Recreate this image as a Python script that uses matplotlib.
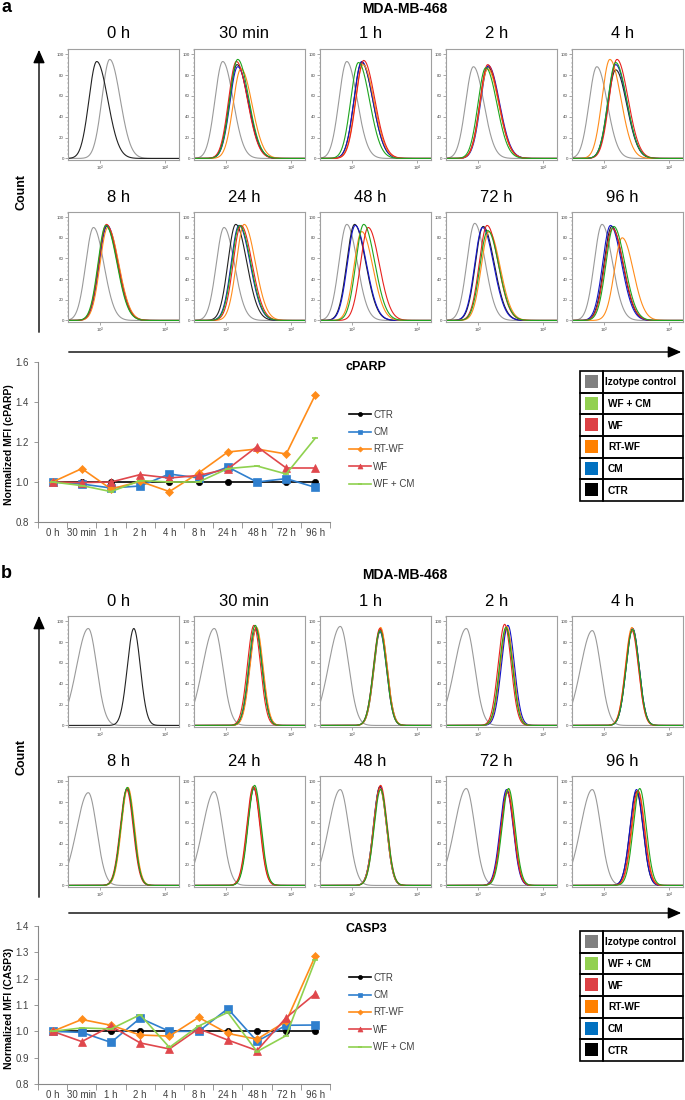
import matplotlib
matplotlib.use('Agg')
import matplotlib.pyplot as plt
import numpy as np
from matplotlib.patches import Rectangle
from matplotlib.ticker import MultipleLocator, NullFormatter

plt.rcParams['font.family'] = ['Liberation Sans', 'DejaVu Sans']

W, H = 685, 1100

# ---- data ----
time_labels = ['0 h', '30 min', '1 h', '2 h', '4 h', '8 h', '24 h', '48 h', '72 h', '96 h']
groups = ['CTR', 'CM', 'RT-WF', 'WF', 'WF + CM']

# normalized MFI, cPARP
cparp_ctr = [1.0, 1.0, 1.0, 1.0, 1.0, 1.0, 1.0, 1.0, 1.0, 1.0]
cparp_cm = [1.0, 0.99, 0.97, 0.98, 1.04, 1.02, 1.075, 1.0, 1.017, 0.973]
cparp_rtwf = [1.0, 1.067, 0.965, 1.003, 0.952, 1.045, 1.15, 1.165, 1.14, 1.437]
cparp_wf = [1.0, 0.997, 1.0, 1.037, 1.02, 1.033, 1.065, 1.177, 1.07, 1.07]
cparp_wfcm = [1.0, 0.982, 0.952, 1.007, 1.0, 1.0, 1.067, 1.08, 1.04, 1.22]

# normalized MFI, CASP3
casp3_ctr = [1.0, 1.0, 1.0, 1.0, 1.0, 1.0, 1.0, 1.0, 1.0, 1.0]
casp3_cm = [1.0, 0.996, 0.958, 1.05, 1.0, 1.0, 1.086, 0.962, 1.023, 1.024]
casp3_rtwf = [1.0, 1.045, 1.023, 0.986, 0.982, 1.053, 0.992, 0.97, 1.038, 1.287]
casp3_wf = [1.0, 0.961, 1.02, 0.956, 0.933, 1.01, 0.967, 0.927, 1.052, 1.143]
casp3_wfcm = [1.0, 1.013, 1.009, 1.063, 0.939, 1.02, 1.072, 0.923, 0.984, 1.271]

# histogram peak positions (log10 fluorescence), order: isotype, CTR, CM, RT-WF, WF, WF + CM
cparp_peaks = [
    [3.15, 2.95, None, None, None, None],
    [2.95, 3.17, 3.18, 3.23, 3.16, 3.18],
    [2.92, 3.15, 3.15, 3.17, 3.18, 3.10],
    [2.93, 3.15, 3.16, 3.15, 3.15, 3.12],
    [2.89, 3.18, 3.18, 3.09, 3.20, 3.18],
    [2.90, 3.10, 3.11, 3.12, 3.10, 3.09],
    [2.97, 3.15, 3.20, 3.28, 3.23, 3.21],
    [2.92, 3.04, 3.05, 3.15, 3.25, 3.18],
    [2.95, 3.08, 3.07, 3.17, 3.14, 3.15],
    [2.97, 3.12, 3.10, 3.28, 3.13, 3.15],
]
cparp_heights = [
    [95, 93, 0, 0, 0, 0],
    [93, 90, 88, 86, 93, 95],
    [93, 92, 93, 90, 94, 92],
    [88, 88, 89, 86, 90, 87],
    [88, 85, 90, 95, 95, 92],
    [90, 91, 92, 90, 93, 92],
    [90, 93, 92, 93, 92, 92],
    [93, 93, 92, 86, 90, 93],
    [94, 91, 90, 86, 92, 87],
    [93, 91, 92, 80, 89, 91],
]
casp3_peaks = [
    [2.82, 3.52, None, None, None, None],
    [2.82, 3.46, 3.46, 3.47, 3.43, 3.45],
    [2.82, 3.44, 3.43, 3.44, 3.43, 3.43],
    [2.82, 3.44, 3.46, 3.44, 3.41, 3.43],
    [2.82, 3.44, 3.44, 3.43, 3.43, 3.44],
    [2.82, 3.42, 3.42, 3.43, 3.41, 3.42],
    [2.82, 3.43, 3.43, 3.43, 3.42, 3.44],
    [2.82, 3.43, 3.43, 3.43, 3.44, 3.44],
    [2.82, 3.45, 3.44, 3.46, 3.45, 3.47],
    [2.82, 3.50, 3.50, 3.53, 3.52, 3.55],
]
casp3_heights = [
    [93, 93, 0, 0, 0, 0],
    [93, 93, 92, 94, 96, 96],
    [95, 92, 90, 94, 93, 91],
    [93, 93, 96, 95, 97, 94],
    [91, 93, 93, 94, 91, 92],
    [89, 93, 93, 94, 92, 94],
    [90, 94, 93, 94, 95, 96],
    [92, 95, 94, 93, 96, 92],
    [93, 91, 92, 92, 89, 93],
    [92, 90, 92, 90, 91, 93],
]

hist_colors = ['#9a9a9a', '#222222', '#1414c8', '#ff8c1a', '#e8231e', '#1fa51f']
line_colors = ['black', '#2f7fce', '#ff8c1a', '#e0474c', '#8fd14f']
line_markers = ['o', 's', 'D', '^', '_']
line_ms = [4.5, 5.5, 4.0, 5.5, 5.0]
table_labels = ['Izotype control', 'WF + CM', 'WF', 'RT-WF', 'CM', 'CTR']
table_colors = ['#808080', '#92d050', '#dd4145', '#ff8000', '#0070c0', '#000000']


def px_axes(fig, x0, y0, x1, y1):
    return fig.add_axes([x0 / W, 1 - y1 / H, (x1 - x0) / W, (y1 - y0) / H])


def peak_curve(xs, mu, h, sl, sr):
    s = np.where(xs < mu, sl, sr)
    return h * np.exp(-0.5 * ((xs - mu) / s) ** 2)


def draw_histogram(ax, peaks, heights, widths):
    xs = np.linspace(2.45, 4.3, 400)
    for k, (mu, h) in enumerate(zip(peaks, heights)):
        if mu is None:
            continue
        sl, sr = widths[0] if k == 0 else widths[1]
        ax.plot(10 ** xs, peak_curve(xs, mu, h, sl, sr), color=hist_colors[k], lw=0.8)
    ax.set_xscale('log')
    ax.set_xlim(10 ** 2.508, 10 ** 4.215)
    ax.set_ylim(-1.5, 105)
    ax.set_xticks([1e3, 1e4])
    ax.set_yticks([0, 20, 40, 60, 80, 100])
    ax.yaxis.set_minor_locator(MultipleLocator(4))
    ax.xaxis.set_minor_formatter(NullFormatter())
    ax.tick_params(labelsize=3.2, labelcolor='#444444', length=2, width=0.4, color='#666666', pad=1)
    ax.tick_params(which='minor', length=1, width=0.3, color='#666666')
    for sp in ax.spines.values():
        sp.set_color('#a0a0a0')
        sp.set_linewidth(0.8)


def draw_line_chart(ax, series, ylim, ystep):
    x = np.arange(len(time_labels))
    for vals, c, m, ms, lab in zip(series, line_colors, line_markers, line_ms, groups):
        ax.plot(x, vals, color=c, marker=m, ms=ms, lw=1.2, label=lab,
                markeredgewidth=1.2 if m == '_' else 0.5)
    ax.set_xlim(-0.5, len(time_labels) - 0.5)
    ax.set_ylim(*ylim)
    ax.set_yticks(np.arange(ylim[0], ylim[1] + 1e-6, ystep))
    ax.yaxis.set_major_formatter(plt.FormatStrFormatter('%.1f'))
    ax.set_xticks(x)
    ax.set_xticklabels(time_labels)
    ax.set_xticks(np.arange(-0.5, len(time_labels), 1), minor=True)
    ax.tick_params(axis='x', which='major', length=0, pad=4)
    ax.tick_params(axis='x', which='minor', length=4, width=0.6, color='#888888')
    ax.tick_params(axis='y', length=3, width=0.6, color='#888888')
    ax.tick_params(labelsize=7, labelcolor='#404040')
    for sp in ['top', 'right']:
        ax.spines[sp].set_visible(False)
    for sp in ['left', 'bottom']:
        ax.spines[sp].set_color('#888888')
        ax.spines[sp].set_linewidth(0.8)


fig = plt.figure(figsize=(W / 100, H / 100), dpi=100)
ov = fig.add_axes([0, 0, 1, 1])
ov.set_xlim(0, W)
ov.set_ylim(H, 0)
ov.axis('off')

parts = [
    dict(letter='a', y0=0, rows=[(49, 160), (212, 322)], varrow=(335, 47), count_y=192,
         harrow=352, marker='cPARP', marker_y=367, chart=(362, 522), ylim=(0.8, 1.6), ystep=0.2,
         legend_y=405, table_y=371, peaks=cparp_peaks, heights=cparp_heights,
         widths=[(0.12, 0.16), (0.12, 0.17)],
         series=[cparp_ctr, cparp_cm, cparp_rtwf, cparp_wf, cparp_wfcm]),
    dict(letter='b', y0=566, rows=[(616, 727), (776, 887)], varrow=(900, 613), count_y=757,
         harrow=913, marker='CASP3', marker_y=929, chart=(926, 1084), ylim=(0.8, 1.4), ystep=0.1,
         legend_y=968, table_y=931, peaks=casp3_peaks, heights=casp3_heights,
         widths=[(0.18, 0.13), (0.1, 0.1)],
         series=[casp3_ctr, casp3_cm, casp3_rtwf, casp3_wf, casp3_wfcm]),
]

col_lefts = [68, 194, 320, 446, 572]
panel_w = 111

for p in parts:
    ov.text(1, p['y0'] + 7, p['letter'], fontsize=13, fontweight='bold', va='center', ha='left')
    ov.text(405, p['y0'] + 9, 'MDA-MB-468', fontsize=10, fontweight='bold', va='center', ha='center')

    for i, t in enumerate(time_labels):
        r, c = divmod(i, 5)
        top, bot = p['rows'][r]
        x0 = col_lefts[c]
        ax = px_axes(fig, x0, top, x0 + panel_w, bot)
        draw_histogram(ax, p['peaks'][i], p['heights'][i], p['widths'])
        ov.text(x0 + panel_w / 2 - 5, top - 15, t, fontsize=12, ha='center', va='center')

    # axes arrows
    ov.annotate('', xy=(39, p['varrow'][1]), xytext=(39, p['varrow'][0]),
                arrowprops=dict(arrowstyle='-|>,head_length=0.8,head_width=0.35', color='black', lw=1.0))
    ov.text(22, p['count_y'], 'Count', rotation=90, fontsize=9, fontweight='bold', ha='center', va='center')
    ov.annotate('', xy=(684, p['harrow']), xytext=(66, p['harrow']),
                arrowprops=dict(arrowstyle='-|>,head_length=0.8,head_width=0.35', color='black', lw=1.0))
    ov.text(346, p['marker_y'], p['marker'], fontsize=9, fontweight='bold', ha='left', va='center')

    # line chart
    ctop, cbot = p['chart']
    lax = px_axes(fig, 38, ctop, 330, cbot)
    draw_line_chart(lax, p['series'], p['ylim'], p['ystep'])
    ov.text(9, (ctop + cbot) / 2 + 3, 'Normalized MFI (%s)' % p['marker'], rotation=90,
            fontsize=7.5, fontweight='bold', ha='center', va='center')
    handles, labels = lax.get_legend_handles_labels()
    fig.legend(handles, labels, loc='upper left', bbox_to_anchor=(344 / W, 1 - p['legend_y'] / H),
               frameon=False, fontsize=7, handlelength=2.3, handletextpad=0.2, labelspacing=0.75,
               markerscale=0.65, borderpad=0, labelcolor='#404040')

    # colour key table
    ty = p['table_y']
    rh = 130 / 6
    for k, (lab, col) in enumerate(zip(table_labels, table_colors)):
        y = ty + k * rh
        ov.add_patch(Rectangle((580, y), 23, rh, fill=False, ec='black', lw=1.2))
        ov.add_patch(Rectangle((603, y), 80, rh, fill=False, ec='black', lw=1.2))
        ov.add_patch(Rectangle((585, y + 4), 13, 13, fc=col, ec='none'))
        ov.text(605 if k == 0 else 608, y + rh / 2 + 0.5, lab, fontsize=7.3 if k else 7.2,
                fontweight='bold', ha='left', va='center')

fig.savefig('out.png', dpi=100)
